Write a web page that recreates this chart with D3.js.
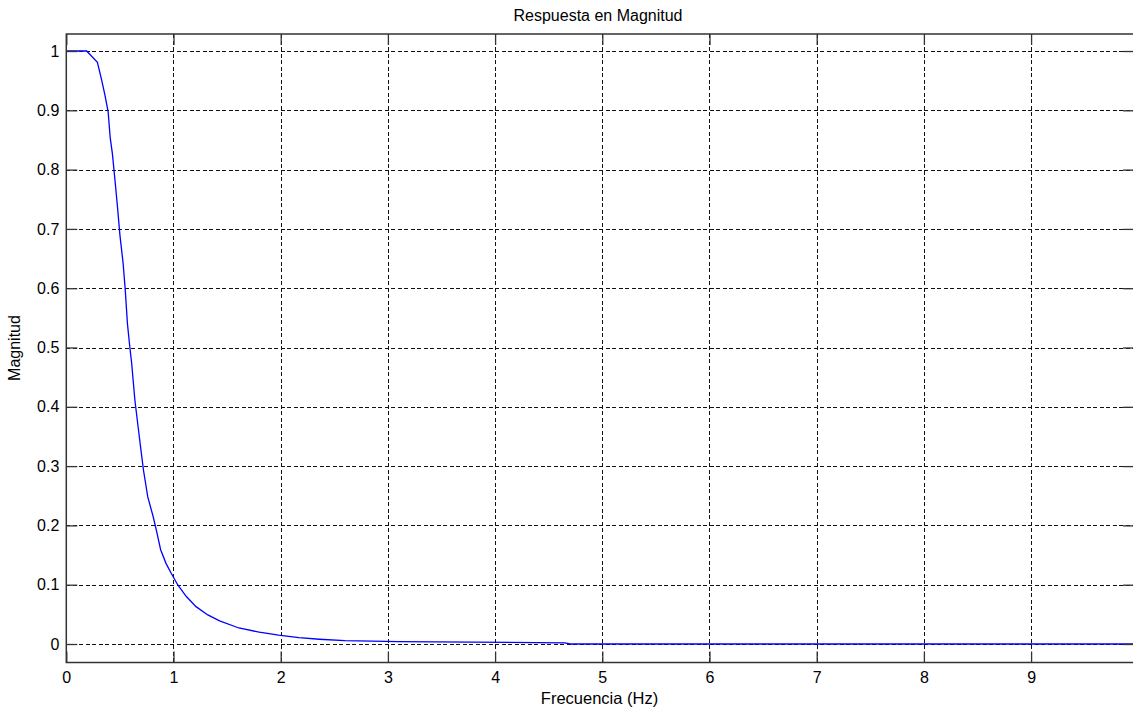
<!DOCTYPE html>
<html>
<head>
<meta charset="utf-8">
<script src="https://cdn.jsdelivr.net/npm/d3@7"></script>
<style>
  html, body { margin: 0; padding: 0; background: #fff; }
  svg { display: block; }
  text { font-family: "Liberation Sans", Arial, sans-serif; fill: #000; }
</style>
</head>
<body>
<svg id="chart" width="1133" height="711"></svg>
<script>
// ---- data ----
const titleText = "Respuesta en Magnitud";
const xLabelText = "Frecuencia (Hz)";
const yLabelText = "Magnitud";

const freq = [0, 0.15, 0.19, 0.29, 0.33, 0.36, 0.39, 0.41, 0.43, 0.46, 0.48, 0.50,
  0.53, 0.55, 0.57, 0.59, 0.61, 0.64, 0.67, 0.70, 0.72, 0.76, 0.81, 0.84, 0.88,
  0.93, 0.98, 1.04, 1.12, 1.21, 1.32, 1.43, 1.61, 1.80, 1.98, 2.17, 2.36, 2.60,
  3.10, 4.65, 4.70, 9.96];
const mag = [1, 1, 1, 0.981, 0.951, 0.926, 0.898, 0.853, 0.827, 0.771, 0.732, 0.690,
  0.642, 0.597, 0.541, 0.505, 0.473, 0.411, 0.366, 0.322, 0.293, 0.248, 0.215, 0.192, 0.159,
  0.136, 0.119, 0.0995, 0.080, 0.063, 0.049, 0.039, 0.027, 0.020, 0.015, 0.0106, 0.008, 0.0056,
  0.004, 0.002, 0, 0];

const xTicks = [0, 1, 2, 3, 4, 5, 6, 7, 8, 9];
const yTicks = [0, 0.1, 0.2, 0.3, 0.4, 0.5, 0.6, 0.7, 0.8, 0.9, 1];
const xDomain = [0, 9.96];
const yDomain = [-0.0312, 1.0287];

// ---- layout ----
const L = 66.3, R = 1134, T = 34, B = 662.5;
const svg = d3.select("#chart");
const x = d3.scaleLinear().domain(xDomain).range([L, R]);
const y = d3.scaleLinear().domain(yDomain).range([B, T]);

const axisColor = "#333";
const tickLen = 11;

// grid
const grid = svg.append("g").attr("stroke", "#111").attr("stroke-width", 1)
  .attr("stroke-dasharray", "4,2.5").attr("shape-rendering", "crispEdges");
grid.selectAll("line.gx").data(xTicks.filter(d => d > 0)).join("line")
  .attr("x1", d => Math.round(x(d)) + 0.5).attr("x2", d => Math.round(x(d)) + 0.5)
  .attr("y1", T).attr("y2", B);
grid.selectAll("line.gy").data(yTicks).join("line")
  .attr("y1", d => Math.round(y(d)) + 0.5).attr("y2", d => Math.round(y(d)) + 0.5)
  .attr("x1", L).attr("x2", R);

// curve
const line = d3.line().x((d, i) => x(freq[i])).y(d => y(d));
svg.append("path").datum(mag)
  .attr("fill", "none").attr("stroke", "#0000ff").attr("stroke-width", 1.3)
  .attr("d", line);

// axes (bottom & left with inward ticks, mirrored top/right)
const xAxisB = d3.axisBottom(x).tickValues(xTicks).tickSizeInner(-tickLen).tickSizeOuter(0)
  .tickPadding(9).tickFormat(d3.format("d"));
const gxb = svg.append("g").attr("transform", `translate(0,${B})`).call(xAxisB);
const xAxisT = d3.axisTop(x).tickValues(xTicks).tickSizeInner(-tickLen).tickSizeOuter(0).tickFormat("");
const gxt = svg.append("g").attr("transform", `translate(0,${T})`).call(xAxisT);
const yAxisL = d3.axisLeft(y).tickValues(yTicks).tickSizeInner(-tickLen).tickSizeOuter(0)
  .tickPadding(7).tickFormat(d => d3.format("")(+d.toFixed(1)));
const gyl = svg.append("g").attr("transform", `translate(${L},0)`).call(yAxisL);
const yAxisR = d3.axisRight(y).tickValues(yTicks).tickSizeInner(-tickLen).tickSizeOuter(0).tickFormat("");
const gyr = svg.append("g").attr("transform", `translate(${R},0)`).call(yAxisR);

[gxb, gxt, gyl, gyr].forEach(g => {
  g.select(".domain").remove();
  g.selectAll("line").attr("stroke", axisColor).attr("stroke-width", 1.3);
  g.selectAll("text").style("font-family", "'Liberation Sans', Arial, sans-serif")
    .style("font-size", "16px").attr("fill", "#111");
});

// box
svg.append("rect").attr("x", L).attr("y", T).attr("width", R - L).attr("height", B - T)
  .attr("fill", "none").attr("stroke", axisColor).attr("stroke-width", 1.5);

// labels
svg.append("text").attr("x", 598).attr("y", 21).attr("text-anchor", "middle")
  .style("font-size", "16px").text(titleText);
svg.append("text").attr("x", 599.5).attr("y", 704).attr("text-anchor", "middle")
  .style("font-size", "16.5px").text(xLabelText);
svg.append("text").attr("transform", `translate(20,348) rotate(-90)`).attr("text-anchor", "middle")
  .style("font-size", "16px").text(yLabelText);
</script>
</body>
</html>
